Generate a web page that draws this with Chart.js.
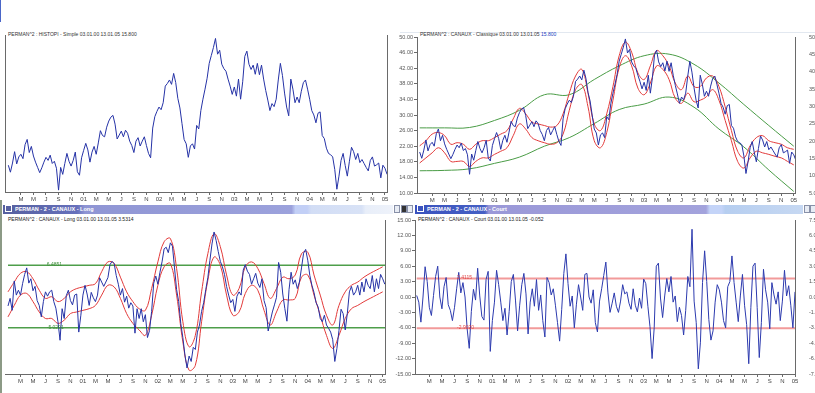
<!DOCTYPE html>
<html lang="fr">
<head>
  <meta charset="UTF-8" />
  <title>PERMAN^2 - Canaux</title>
  <script src="https://cdn.jsdelivr.net/npm/chart.js"></script>
  <style>
    body {
      margin: 0;
      width: 815px;
      height: 393px;
      overflow: hidden;
      position: relative;
      background: #fff;
      font-family: "Liberation Sans", Arial, sans-serif;
    }
    canvas { position: absolute; }
    .hdr {
      position: absolute;
      font-size: 5px;
      color: #333;
      white-space: nowrap;
      line-height: 6px;
    }
    .bar {
      position: absolute;
      top: 205px;
      height: 9px;
      color: #fff;
      font-size: 5.5px;
      font-weight: bold;
      line-height: 9px;
      white-space: nowrap;
    }
    .bar .chk {
      display: inline-block;
      width: 5px;
      height: 5px;
      margin: 0 3px 0 2px;
      border: 1px solid #fff;
      vertical-align: -1px;
    }
    .btn {
      position: absolute;
      top: 205px;
      width: 6px;
      height: 8px;
      background: #e8ecf4;
      border: 1px solid #8890a8;
      box-sizing: border-box;
    }
    .btn.dark { background: #333; }
  </style>
</head>
<body>
  <div style="position:absolute;left:0;top:0;width:1px;height:22px;background:#4a66c8"></div>
  <div style="position:absolute;left:400px;top:32px;width:415px;height:1px;background:#e2e8f0"></div>
  <div style="position:absolute;left:0;top:200px;width:2px;height:193px;background:#8c9a86"></div>

  <div class="hdr" style="left:8px;top:31px">PERMAN^2 : HISTOPI - Simple 03.01.00 13.01.05 15.800</div>
  <div class="hdr" style="left:420px;top:31px">PERMAN^2 : CANAUX - Classique 03.01.00 13.01.05 <span style="color:#2040c0">15.800</span></div>

  <div class="bar" style="left:3px;width:390px;background:linear-gradient(90deg,#56609f 0%,#6670bc 19%,#8f95d4 21%,#9ca2dc 74%,#c2cff6 75%,#c2cff6 78%,#d2ddf5 79%,#d8e2f6 92%,#e8eef9 93%,#eef2fa 100%)"><span class="chk"></span>PERMAN - 2 - CANAUX - Long</div>
  <div class="btn" style="left:394px"></div>
  <div class="btn dark" style="left:401px"></div>
  <div class="btn" style="left:407px"></div>
  <div class="bar" style="left:415px;width:388px;background:linear-gradient(90deg,#3a52be 0%,#4660c4 18%,#9a98d8 19%,#a3a3dc 75%,#c4d4f8 76%,#c4d4f8 79%,#b6cef0 80%,#c6d8f2 100%)"><span class="chk"></span>PERMAN - 2 - CANAUX - Court</div>
  <div class="btn" style="left:804px"></div>
  <div class="btn" style="left:810px"></div>

  <div class="hdr" style="left:8px;top:216px;color:#222">PERMAN^2 : CANAUX - Long 03.01.00 13.01.05 3.5314</div>
  <div class="hdr" style="left:418px;top:216px;color:#222">PERMAN^2 : CANAUX - Court 03.01.00 13.01.05 -0.052</div>

  <canvas id="histo" width="400" height="175" style="left:0;top:30px"></canvas>
  <canvas id="canaux" width="440" height="176" style="left:395px;top:30px"></canvas>
  <canvas id="long" width="400" height="173" style="left:0;top:214px"></canvas>
  <canvas id="court" width="440" height="173" style="left:395px;top:214px"></canvas>

  <script>
    // x positions are months since January 2000; series are sampled 3 times a month
    const xTickLabels = ['M','M','J','S','N','01','M','M','J','S','N','02','M','M','J','S','N','03',
                         'M','M','J','S','N','04','M','M','J','S','N','05'];

    const price = [
      20.5,18.9,21.0,23.6,20.8,22.4,23.0,22.0,25.2,26.4,
      23.4,24.8,22.6,21.2,20.0,18.8,19.9,21.2,22.3,21.6,
      22.8,20.9,21.4,19.8,14.8,20.0,18.4,20.9,23.2,21.4,
      20.3,21.6,23.5,19.0,18.2,22.2,23.9,25.5,24.0,21.2,
      23.5,24.8,23.0,25.6,28.4,27.3,27.0,29.2,30.6,31.5,
      31.9,29.9,26.5,27.4,28.3,27.0,28.5,27.8,26.0,25.0,
      23.4,26.0,26.8,24.9,26.0,27.0,25.0,23.2,22.2,29.0,
      31.6,32.8,33.8,33.2,34.8,38.6,39.2,40.0,39.0,41.5,
      39.4,35.8,33.6,30.0,26.4,25.4,22.3,24.9,25.4,24.2,
      29.6,28.8,33.0,35.6,37.9,40.4,43.8,45.6,47.4,49.5,
      45.9,46.8,43.6,42.6,42.0,40.2,38.6,36.7,38.4,36.3,
      40.2,35.6,39.6,45.4,46.6,43.6,42.4,43.4,41.3,43.8,
      41.2,43.4,40.2,37.6,35.4,33.0,34.6,33.9,35.6,40.0,
      43.8,41.0,37.0,33.8,31.8,40.2,37.9,34.8,36.1,34.8,
      37.4,39.4,40.0,37.9,35.6,33.0,32.0,30.2,32.4,32.7,
      27.3,26.6,24.4,23.2,22.9,22.4,19.5,15.0,18.0,21.6,
      23.2,20.4,18.0,21.4,24.6,23.6,21.8,23.2,21.1,21.8,
      20.9,20.0,19.2,21.6,22.4,20.3,20.6,21.0,17.6,20.5,
      19.8,18.4
    ];

    // short channel (one value a month)
    const envUpper = [
      22.1,23.4,25.1,25.5,24.7,22.5,22.9,22.5,21.2,22.5,
      23.4,23.4,24.2,25.1,26.0,29.0,31.7,30.3,28.2,27.7,
      27.3,26.9,27.3,30.3,35.6,40.0,41.7,35.6,27.7,26.0,
      30.3,37.3,45.2,48.7,46.1,40.8,39.1,42.6,46.5,45.2,
      42.6,38.2,36.5,40.0,37.3,37.3,39.5,40.0,37.3,32.1,
      26.0,20.7,19.0,22.1,24.2,24.7,23.4,22.9,22.5,21.6,
      21.2
    ];
    const envLower = [
      17.7,19.0,20.3,21.6,20.3,18.1,18.1,18.1,16.8,18.1,
      19.0,19.0,19.9,20.7,21.6,24.7,27.7,26.4,24.2,23.4,
      22.9,22.5,22.9,25.1,31.2,36.5,37.8,32.1,23.4,21.6,
      25.5,33.8,42.1,45.2,42.6,36.9,35.2,38.2,42.6,41.7,
      39.1,34.3,33.0,35.6,33.4,33.8,34.7,36.5,33.8,28.6,
      23.4,18.1,16.4,19.0,20.7,20.3,19.9,19.4,19.0,18.1,
      17.2
    ];

    // long channel (one value every 4 months)
    const greenUpper = [26.7,26.7,26.8,28.6,31.2,35.2,35.2,39.1,42.6,45.2,45.6,43.0,38.2,32.7,27.3,22.0];
    const greenLower = [15.7,15.8,16.2,17.6,19.2,22.0,24.2,27.8,31.4,32.8,34.6,32.0,26.4,21.8,15.9,10.4];

    const longOsc = [
      -1.0,0.4,-1.8,3.6,1.0,1.9,1.0,3.1,4.8,6.0,
      3.2,4.0,1.8,2.6,0.0,-0.9,-3.0,-0.2,1.6,0.8,
      1.6,1.9,-0.2,-1.4,-3.9,-7.3,-1.5,-3.3,0.9,1.9,
      0.0,-0.8,1.0,1.2,-5.8,-2.7,1.0,2.8,1.2,-0.9,
      1.5,0.5,-0.2,1.0,4.2,3.4,2.6,3.4,4.2,6.6,
      7.2,6.8,4.6,3.0,1.0,2.2,-0.3,0.8,-1.4,-0.4,
      -1.0,-6.0,-1.5,-3.3,-1.5,-3.9,-2.6,-6.8,-5.5,-2.0,
      3.2,4.5,3.0,5.2,7.1,9.5,9.8,8.8,10.6,10.0,
      6.0,2.0,-0.2,-4.2,-6.8,-10.0,-12.4,-10.2,-11.2,-8.6,
      -9.0,-5.8,-4.5,-2.0,-0.4,2.0,4.2,7.4,10.4,12.6,
      11.0,9.0,7.2,6.2,4.8,2.6,1.0,-0.4,0.2,-2.0,
      0.8,1.6,1.0,5.6,6.6,5.4,4.8,3.0,4.0,5.0,
      3.2,2.4,4.0,0.0,-1.3,-5.6,-3.8,-2.1,-0.8,0.6,
      7.0,5.2,1.2,-1.5,-3.8,2.0,5.2,3.0,3.8,2.2,
      3.4,6.0,8.7,9.4,7.4,4.6,2.8,1.5,-0.4,-1.2,
      -3.3,-3.9,-2.7,-4.5,-5.1,-5.8,-7.2,-11.2,-8.8,-5.5,
      -1.6,-2.4,-5.4,-2.4,1.6,2.6,1.0,1.6,2.8,1.0,
      3.4,1.6,4.0,2.8,2.2,4.6,1.6,4.0,2.2,4.8,
      4.0,3.0
    ];
    const longUpper = [
      1.6,3.4,5.0,5.3,4.0,1.9,0.4,0.7,-0.2,0.4,
      1.6,2.2,2.5,2.8,3.1,5.3,7.1,6.8,4.3,1.6,
      -0.2,-1.5,-1.8,2.2,7.1,10.8,11.4,5.9,-3.9,-8.5,
      -6.4,1.6,8.6,12.3,9.9,4.7,1.0,2.2,6.2,7.1,
      5.9,3.1,0.4,2.2,4.3,4.0,4.7,8.6,8.9,4.7,
      1.0,-2.7,-4.5,-0.9,1.6,2.8,3.4,4.3,5.0,5.6,
      6.2
    ];
    const longLower = [
      -3.0,-0.9,1.0,1.3,-0.2,-2.1,-3.3,-3.3,-4.2,-3.6,
      -2.4,-2.1,-1.8,-1.5,-0.9,1.0,2.8,2.5,0.4,-2.4,
      -4.2,-5.4,-6.4,-2.7,2.8,6.2,6.8,1.0,-7.6,-12.8,
      -11.9,-3.9,3.7,8.0,6.5,1.0,-2.7,-2.1,1.3,2.8,
      1.9,-1.8,-4.5,-2.1,0.1,0.1,0.4,4.3,4.7,1.0,
      -2.7,-6.4,-8.8,-6.4,-3.3,-1.5,-0.9,-0.2,0.4,1.0,
      1.6
    ];
    const longLevels = [6.4851, -5.0201];

    const court = [
      0.3,-1.0,-4.9,0.0,5.9,3.0,-2.0,-3.6,0.3,4.0,
      6.0,0.0,-2.3,2.0,3.8,-1.5,-2.6,-4.6,-2.0,1.6,
      4.8,0.8,2.8,0.0,-6.2,-10.0,-2.8,1.5,-0.6,5.6,
      0.2,-3.8,-4.5,3.4,5.0,-10.6,-4.6,-1.0,5.2,2.4,
      -1.0,-4.6,-2.2,-7.4,-2.8,3.0,4.4,-0.6,-6.6,-1.6,
      2.4,4.6,0.6,-7.2,-1.0,1.6,-1.8,3.4,-2.6,0.4,
      -4.6,-7.8,3.8,2.8,0.4,1.6,-1.6,-5.0,-8.6,-2.4,
      4.6,8.4,2.6,-1.8,0.2,-6.0,-1.4,2.4,0.0,-2.6,
      4.4,4.6,0.0,-1.2,1.4,-5.0,-6.8,-0.8,1.6,4.2,
      6.8,0.8,-3.0,-1.2,0.8,-1.8,-3.0,-0.8,2.4,0.6,
      1.0,-1.2,-2.4,1.6,-1.6,-2.9,-0.2,-2.2,3.5,2.6,
      -1.8,-5.8,-12.0,-6.0,6.0,6.6,-0.2,-4.0,0.2,3.6,
      1.0,4.0,-1.0,0.2,-4.8,-2.0,-3.6,-7.4,-2.6,4.0,
      2.0,13.2,-0.8,-5.0,-14.0,-8.8,2.8,9.0,3.0,-4.4,
      -8.4,-6.6,-1.0,2.4,1.4,-1.0,-4.6,-6.0,2.0,3.0,
      8.0,2.8,-1.0,-4.8,0.2,4.4,-1.6,-5.4,-13.0,-2.0,
      6.0,6.6,-2.0,-11.8,-5.0,5.4,1.4,-1.0,-6.2,2.8,
      0.4,-1.4,1.0,-4.6,-0.8,5.2,0.2,2.2,-1.6,-6.0,
      1.0,1.6
    ];
    const courtLevels = [3.6, -6.1];
    const courtLevelText = ['2.4115', '-2.9020'];

    const END = 60.43;
    const tiny = { family: 'Liberation Sans', size: 6 };
    const AXIS = '#6a6a6a';

    function series(values, step) {
      return values.map((v, i) => ({ x: i * step, y: v }));
    }
    function level(v) {
      return [{ x: 0, y: v }, { x: END, y: v }];
    }
    function line(data, color, extra) {
      return Object.assign({ data: data, borderColor: color, borderWidth: 1, pointRadius: 0, tension: 0, fill: false }, extra || {});
    }

    function xAxis(min, max) {
      return {
        type: 'linear', min: min, max: max,
        afterBuildTicks: a => { a.ticks = xTickLabels.map((_, k) => ({ value: (k + 1) * 2 })); },
        ticks: { callback: (v, k) => xTickLabels[k], font: tiny, color: '#444', padding: 1, maxRotation: 0, autoSkip: false },
        grid: { drawOnChartArea: false, tickLength: 3, color: AXIS },
        border: { color: AXIS },
        afterFit: a => { a.height = 13; }
      };
    }
    // axis that is only a frame line
    function bareAxis(pos, width) {
      return {
        position: pos, display: true,
        ticks: { display: false }, grid: { display: false },
        border: { color: AXIS },
        afterFit: a => { a.width = width; }
      };
    }
    // tick padding also pads the chart top, so the labels are pushed out with tickLength
    function labelAxis(pos, min, max, step, width, gap, tickColor) {
      return {
        position: pos, min: min, max: max,
        ticks: { stepSize: step, autoSkip: false, font: { family: 'Liberation Sans', size: 5.5 }, color: '#555', padding: 1,
                 callback: v => v.toFixed(2) },
        grid: { drawOnChartArea: false, tickLength: gap, color: tickColor },
        border: { color: AXIS },
        afterFit: a => { a.width = width; }
      };
    }

    // text on the horizontal level lines
    const levelLabels = {
      id: 'levelLabels',
      afterDatasetsDraw(chart, args, opts) {
        if (!opts.items) return;
        const ctx = chart.ctx;
        ctx.save();
        ctx.font = '5px "Liberation Sans"';
        ctx.fillStyle = opts.color;
        ctx.textBaseline = 'bottom';
        opts.items.forEach(it => {
          ctx.fillText(it.text, chart.scales.x.getPixelForValue(it.x), chart.scales.y.getPixelForValue(it.y) + 2);
        });
        ctx.restore();
      }
    };

    function makeChart(id, datasets, scales, padding, plugOpts) {
      return new Chart(document.getElementById(id), {
        type: 'line',
        data: { datasets: datasets },
        options: {
          responsive: false,
          animation: false,
          events: [],
          layout: { padding: padding },
          plugins: { legend: { display: false }, tooltip: { enabled: false }, levelLabels: plugOpts || {} },
          scales: scales
        },
        plugins: [levelLabels]
      });
    }

    // top left: price only
    makeChart('histo',
      [line(series(price, 1 / 3), '#2532a6')],
      { x: xAxis(-0.53, 60.32), y: Object.assign(bareAxis('left', 5), { min: 14.37, max: 50.29 }), y2: bareAxis('right', 0) },
      { left: 0, right: 13, top: 5, bottom: 0 });

    // top right: price with short and long channels
    makeChart('canaux',
      [
        line(series(price, 1 / 3), '#2532a6'),
        line(series(envUpper, 1), '#e23a3a', { tension: 0.4 }),
        line(series(envLower, 1), '#e23a3a', { tension: 0.4 }),
        line(series(greenUpper, 4), '#4a9c46', { tension: 0.4 }),
        line(series(greenLower, 4), '#4a9c46', { tension: 0.4 })
      ],
      { x: xAxis(-0.43, 60.2), y: labelAxis('left', 10, 50, 4, 22, 3, AXIS), y2: labelAxis('right', 5, 50, 5, 40, 13, 'rgba(0,0,0,0)') },
      { left: 0, right: 0, top: 7, bottom: 0 });

    // bottom left: long oscillator
    makeChart('long',
      [
        line(series(longOsc, 1 / 3), '#2532a6'),
        line(series(longUpper, 1), '#e23a3a', { tension: 0.4 }),
        line(series(longLower, 1), '#e23a3a', { tension: 0.4 }),
        line(level(longLevels[0]), '#4e9e4a', { borderWidth: 1.5 }),
        line(level(longLevels[1]), '#4e9e4a', { borderWidth: 1.5 })
      ],
      { x: xAxis(-0.48, 60.37), y: Object.assign(bareAxis('left', 5), { min: -13.5, max: 14.8, border: { display: false } }), y2: bareAxis('right', 0) },
      { left: 0, right: 15, top: 6, bottom: 0 },
      { color: '#3f8f3c', items: longLevels.map(v => ({ x: 6.2, y: v, text: v.toFixed(4) })) });

    // bottom right: short oscillator
    makeChart('court',
      [
        line(series(court, 1 / 3), '#2c3aae'),
        line(level(courtLevels[0]), '#f29a9a', { borderWidth: 2 }),
        line(level(courtLevels[1]), '#f29a9a', { borderWidth: 2 })
      ],
      { x: xAxis(-0.27, 60.0), y: labelAxis('left', -15, 15, 3, 20, 3, AXIS), y2: labelAxis('right', -7.5, 7.5, 1.5, 40, 13, 'rgba(0,0,0,0)') },
      { left: 0, right: 0, top: 6, bottom: 0 },
      { color: '#e04848', items: courtLevels.map((v, k) => ({ x: 6.4, y: v, text: courtLevelText[k] })) });
  </script>
</body>
</html>
